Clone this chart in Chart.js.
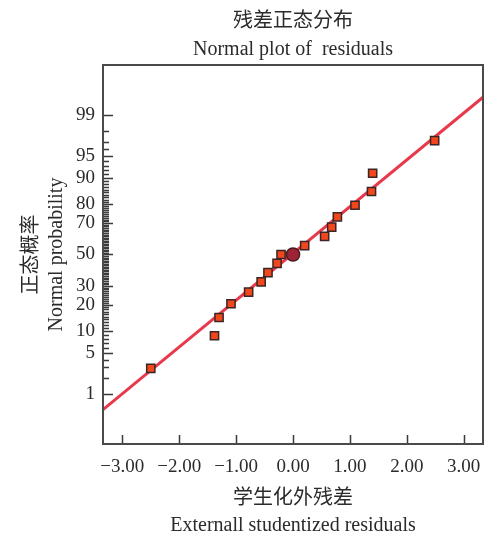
<!DOCTYPE html>
<html>
<head>
<meta charset="utf-8">
<script src="https://cdn.jsdelivr.net/npm/chart.js@4"></script>
<style>
  html, body { margin: 0; padding: 0; background: #ffffff; }
  #wrap { width: 493px; height: 535px; }
</style>
</head>
<body>
<div id="wrap"><canvas id="c" width="493" height="535"></canvas></div>
<script>
// ---- data ----
const residualX = [-2.50, -1.38, -1.30, -1.09, -0.78, -0.56, -0.44, -0.28, -0.21, 0.205, 0.556, 0.68, 0.78, 1.09, 1.38, 1.40, 2.49];
const probPct   = [2.9, 8.8, 14.7, 20.6, 26.5, 32.4, 38.2, 44.1, 50.0, 55.9, 61.8, 67.6, 73.5, 79.4, 85.3, 91.2, 97.1];
const markX = [0.0];
const markP = [50.0];
const fitX = [-3.34, 3.34];
const fitP = [0.49, 99.56];
const xTicks = [-3, -2, -1, 0, 1, 2, 3];
const yMajorTicks = [1, 5, 10, 20, 30, 50, 70, 80, 90, 95, 99];
const yMinorTicks = [2,3,4,6,7,8,9,11,12,13,14,15,16,17,18,19,21,22,23,24,25,26,27,28,29,
  31,32,33,34,35,36,37,38,39,40,41,42,43,44,45,46,47,48,49,51,52,53,54,55,56,57,58,59,60,61,62,63,64,65,66,67,68,69,
  71,72,73,74,75,76,77,78,79,81,82,83,84,85,86,87,88,89,91,92,93,94,96,97,98];

// ---- inverse normal CDF for the probability scale ----
function probit(p) {
  const a=[-3.969683028665376e+01,2.209460984245205e+02,-2.759285104469687e+02,1.383577518672690e+02,-3.066479806614716e+01,2.506628277459239e+00];
  const b=[-5.447609879822406e+01,1.615858368580409e+02,-1.556989798598866e+02,6.680131188771972e+01,-1.328068155288572e+01];
  const c=[-7.784894002430293e-03,-3.223964580411365e-01,-2.400758277161838e+00,-2.549732539343734e+00,4.374664141464968e+00,2.938163982698783e+00];
  const d=[7.784695709041462e-03,3.224671290700398e-01,2.445134137142996e+00,3.754408661907416e+00];
  const pl = 0.02425, ph = 1 - pl;
  let q, r;
  if (p < pl) { q = Math.sqrt(-2*Math.log(p)); return (((((c[0]*q+c[1])*q+c[2])*q+c[3])*q+c[4])*q+c[5])/((((d[0]*q+d[1])*q+d[2])*q+d[3])*q+1); }
  if (p > ph) { q = Math.sqrt(-2*Math.log(1-p)); return -(((((c[0]*q+c[1])*q+c[2])*q+c[3])*q+c[4])*q+c[5])/((((d[0]*q+d[1])*q+d[2])*q+d[3])*q+1); }
  q = p - 0.5; r = q*q;
  return (((((a[0]*r+a[1])*r+a[2])*r+a[3])*r+a[4])*r+a[5])*q/(((((b[0]*r+b[1])*r+b[2])*r+b[3])*r+b[4])*r+1);
}

class ProbitScale extends Chart.Scale {
  parse(raw) { return raw == null ? null : +raw; }
  determineDataLimits() {
    const { min, max } = this.getUserBounds();
    this.min = min; this.max = max;
  }
  buildTicks() { return yMajorTicks.map(v => ({ value: v })); }
  configure() {
    super.configure();
    this._zmin = probit(this.min / 100);
    this._zmax = probit(this.max / 100);
  }
  getPixelForValue(v) {
    const z = probit(v / 100);
    return this.getPixelForDecimal((z - this._zmin) / (this._zmax - this._zmin));
  }
  getValueForPixel(px) {
    const dec = this.getDecimalForPixel(px);
    const z = this._zmin + dec * (this._zmax - this._zmin);
    let lo = this.min, hi = this.max;
    for (let i = 0; i < 40; i++) { const m = (lo + hi) / 2; if (probit(m / 100) < z) lo = m; else hi = m; }
    return (lo + hi) / 2;
  }
  getLabelForValue(v) { return String(v); }
}
ProbitScale.id = 'probit';
ProbitScale.defaults = {};
Chart.register(ProbitScale);

const FONT = '"Liberation Serif", "Noto Sans CJK SC", serif';
const TXT = '#2b2b2b';

const tickPlugin = {
  id: 'inwardTicks',
  afterDatasetsDraw(chart) {
    const { ctx, chartArea: ca, scales } = chart;
    ctx.save();
    ctx.strokeStyle = '#3a3a3a';
    ctx.lineWidth = 1.5;
    const ys = scales.y, xs = scales.x;
    ctx.beginPath();
    yMajorTicks.forEach(v => { const p = Math.round(ys.getPixelForValue(v)) + 0.5; ctx.moveTo(ca.left, p); ctx.lineTo(ca.left + 10, p); });
    yMinorTicks.forEach(v => { const p = Math.round(ys.getPixelForValue(v)) + 0.5; ctx.moveTo(ca.left, p); ctx.lineTo(ca.left + 6, p); });
    xTicks.forEach(v => { const p = Math.round(xs.getPixelForValue(v)) + 0.5; ctx.moveTo(p, ca.bottom); ctx.lineTo(p, ca.bottom - 9); });
    ctx.stroke();
    ctx.strokeStyle = '#4a4a4a';
    ctx.lineWidth = 2;
    ctx.strokeRect(ca.left, ca.top, ca.right - ca.left, ca.bottom - ca.top);
    ctx.restore();
  }
};

new Chart(document.getElementById('c'), {
  type: 'scatter',
  data: {
    datasets: [
      {
        label: 'residuals',
        data: residualX.map((x, i) => ({ x: x, y: probPct[i] })),
        pointStyle: 'rect',
        pointRadius: 5.8,
        pointHoverRadius: 5.8,
        backgroundColor: '#f2461c',
        borderColor: '#3a2626',
        borderWidth: 1.5
      },
      {
        label: 'selected',
        data: markX.map((x, i) => ({ x: x, y: markP[i] })),
        pointStyle: 'circle',
        pointRadius: 6.6,
        pointHoverRadius: 6.6,
        backgroundColor: '#9c2436',
        borderColor: '#4a1a1e',
        borderWidth: 1.5
      },
      {
        type: 'line',
        label: 'fit',
        data: fitX.map((x, i) => ({ x: x, y: fitP[i] })),
        borderColor: '#e8384c',
        borderWidth: 3,
        pointRadius: 0,
        fill: false
      }
    ]
  },
  options: {
    responsive: false,
    animation: false,
    events: [],
    layout: { padding: { left: 0, right: 10, top: 0, bottom: 0 } },
    plugins: {
      legend: { display: false },
      tooltip: { enabled: false },
      title: {
        display: true, text: '残差正态分布', fullSize: false, color: TXT,
        font: { family: FONT, size: 20, weight: 'normal', lineHeight: 1.2 },
        padding: { top: 9.5, bottom: 2 }
      },
      subtitle: {
        display: true, text: 'Normal plot of  residuals', fullSize: false, color: TXT,
        font: { family: FONT, size: 20, weight: 'normal', lineHeight: 1.2 },
        padding: { top: 2.5, bottom: 3 }
      }
    },
    scales: {
      x: {
        type: 'linear', position: 'bottom', min: -3.34, max: 3.34,
        afterBuildTicks: s => { s.ticks = xTicks.map(v => ({ value: v })); },
        afterFit: s => { s.height = 91; },
        grid: { display: false, drawTicks: false },
        border: { display: false },
        ticks: {
          color: TXT, padding: 12, autoSkip: false, maxRotation: 0,
          font: { family: FONT, size: 19 },
          callback: v => (v < 0 ? '\u2212' + Math.abs(v).toFixed(2) : v.toFixed(2))
        },
        title: {
          display: true, text: ['学生化外残差', 'Externall studentized residuals'], color: TXT,
          font: { family: FONT, size: 20, lineHeight: 1.35 },
          padding: { top: 0, bottom: -4 }
        }
      },
      y: {
        type: 'probit', position: 'left', min: 0.08, max: 99.92,
        afterFit: s => { s.width = 103; },
        grid: { display: false, drawTicks: false },
        border: { display: false },
        ticks: {
          color: TXT, padding: 8, autoSkip: false,
          font: { family: FONT, size: 19 },
          callback: v => String(v)
        },
        title: {
          display: true, text: ['正态概率', 'Normal probability'], color: TXT,
          font: { family: FONT, size: 20, lineHeight: 1.25 },
          padding: { top: 19, bottom: 0 }
        }
      }
    }
  },
  plugins: [tickPlugin]
});
</script>
</body>
</html>
